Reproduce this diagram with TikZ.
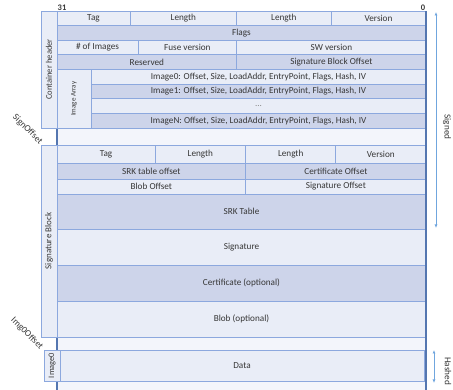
\documentclass[tikz,border=0pt]{standalone}
\usepackage{fontspec}
\setmainfont{Carlito}
\usetikzlibrary{arrows.meta}
\definecolor{lightc}{RGB}{233,237,247}
\definecolor{darkc}{RGB}{205,212,234}
\definecolor{bgc}{RGB}{243,245,251}
\definecolor{linec}{RGB}{140,168,222}
\definecolor{edgec}{RGB}{84,118,176}
\definecolor{txtc}{RGB}{55,55,55}
\definecolor{arrc}{RGB}{112,166,222}
\newcommand\mycell[7]{%
  \path[cellbox, fill=#6] (#2,#3) rectangle (#4,#5);
  \node[lbl] (#1) at ({(#2+#4)/2},{(#3+#5)/2}) {#7};}
\newcommand\myside[7]{%
  \path[cellbox, fill=lightc] (#2,#3) rectangle (#4,#5);
  \node[lbl, rotate=90, font=\fontsize{#7}{10}\selectfont] (#1) at ({(#2+#4)/2},{(#3+#5)/2}) {#6};}
\begin{document}
\begin{tikzpicture}[x=1pt,y=-1pt,
  cellbox/.style={draw=linec, line width=0.8pt},
  lbl/.style={text=txtc, inner sep=0.5pt, font=\fontsize{9.2}{10}\selectfont},
  edge/.style={draw=edgec, line width=1.6pt},
  arr/.style={draw=arrc, line width=0.7pt, {Latex[length=3.5pt,width=3pt]}-{Latex[length=3.5pt,width=3pt]}}]
\useasboundingbox (0,0) rectangle (453,390);
% main column background
\fill[bgc] (57,11) rectangle (426,390);
\coordinate (lt) at (57,11); \coordinate (lb) at (57,390);
\coordinate (rt) at (426,11); \coordinate (rb) at (426,390);
\draw[edge] (lt) -- (lb);
% container header
\mycell{tagA}{57}{11}{130}{25.625}{lightc}{Tag}
\mycell{lenA}{130}{11}{236.7}{25.625}{lightc}{Length}
\mycell{lenB}{236.7}{11}{331}{25.625}{lightc}{Length}
\mycell{verA}{331}{11}{426}{25.625}{lightc}{Version}
\mycell{flags}{57}{25.625}{426}{40.25}{darkc}{Flags}
\mycell{nimg}{57}{40.25}{138}{54.875}{lightc}{\# of Images}
\mycell{fuse}{138}{40.25}{236.7}{54.875}{lightc}{Fuse version}
\mycell{swv}{236.7}{40.25}{426}{54.875}{lightc}{SW version}
\mycell{res}{57}{54.875}{236.7}{69.5}{darkc}{Reserved}
\mycell{sbo}{236.7}{54.875}{426}{69.5}{darkc}{Signature Block Offset}
\mycell{imgA}{91}{69.5}{426}{84.125}{lightc}{Image0: Offset, Size, LoadAddr, EntryPoint, Flags, Hash, IV}
\mycell{imgB}{91}{84.125}{426}{98.75}{darkc}{Image1: Offset, Size, LoadAddr, EntryPoint, Flags, Hash, IV}
\mycell{imgC}{91}{98.75}{426}{113.375}{lightc}{\textcolor{txtc!60}{...}}
\mycell{imgN}{91}{113.375}{426}{128}{darkc}{ImageN: Offset, Size, LoadAddr, EntryPoint, Flags, Hash, IV}
\myside{arr}{57}{69.5}{91}{128}{Image Array}{7}
\myside{chdr}{41}{11}{57}{128}{Container header}{8.6}
% signature block
\mycell{tagB}{57}{145}{155}{163}{lightc}{Tag}
\mycell{lenC}{155}{145}{245.7}{163}{lightc}{Length}
\mycell{lenD}{245.7}{145}{335.7}{163}{lightc}{Length}
\mycell{verB}{335.7}{145}{426}{163}{lightc}{Version}
\mycell{srkoff}{57}{163}{245.7}{179}{darkc}{SRK table offset}
\mycell{certoff}{245.7}{163}{426}{179}{darkc}{Certificate Offset}
\mycell{bloboff}{57}{179}{245.7}{194}{lightc}{Blob Offset}
\mycell{sigoff}{245.7}{179}{426}{194}{lightc}{Signature Offset}
\mycell{srk}{57}{194}{426}{229}{darkc}{SRK Table}
\mycell{sig}{57}{229}{426}{265}{lightc}{Signature}
\mycell{cert}{57}{265}{426}{301}{darkc}{Certificate (optional)}
\mycell{blob}{57}{301}{426}{337}{lightc}{Blob (optional)}
\myside{sblk}{41}{145}{57}{337}{Signature Block}{9}
% image0
\mycell{data}{60}{350}{424}{381}{lightc}{Data}
\myside{imz}{44}{350}{60}{381}{Image0}{8.4}
% right edge
\draw[edge] (rt) -- (rb);
% bit labels
\node[lbl, anchor=south west, font=\fontsize{8.5}{9}\selectfont\bfseries] (b31) at (57,11) {31};
\node[lbl, anchor=south east, font=\fontsize{8.5}{9}\selectfont\bfseries] (b0) at (426,11) {0};
% offsets
\node[lbl, rotate=-45] (soff) at (27.5,129.5) {SignOffset};
\node[lbl, rotate=-45] (ioff) at (27,333.5) {Img0Offset};
% arrows
\coordinate (sgT) at (436,12); \coordinate (sgB) at (436,228);
\draw[arr] (sgT) -- (sgB);
\node[lbl, rotate=-90] (signed) at (447,127) {Signed};
\coordinate (hsT) at (434,350); \coordinate (hsB) at (434,383);
\draw[arr] (hsT) -- (hsB);
\node[lbl, rotate=-90] (hashed) at (448,371) {Hashed};
\end{tikzpicture}
\end{document}
